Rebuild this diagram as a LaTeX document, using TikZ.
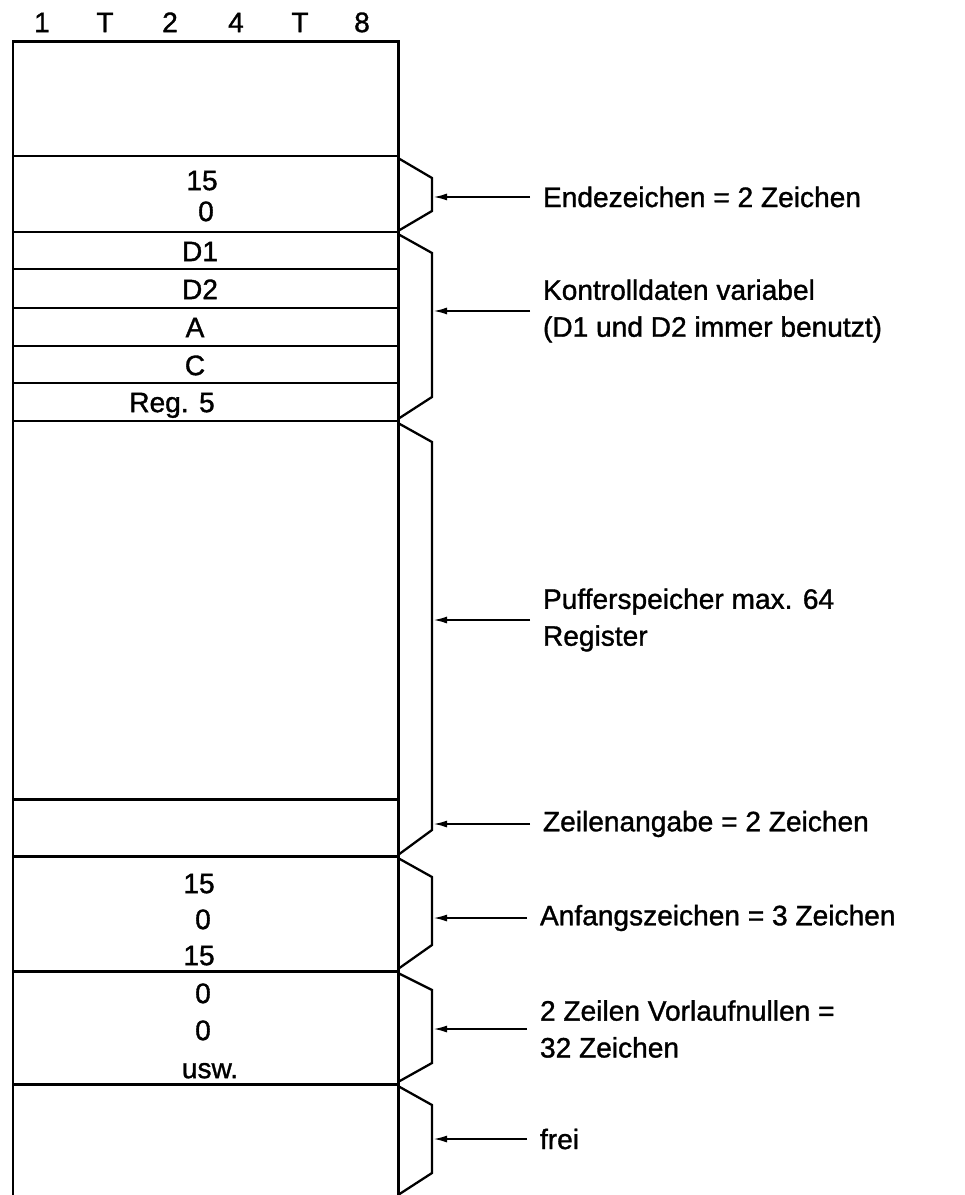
\documentclass[tikz,border=0pt]{standalone}
\usepackage{fontspec}
\setmainfont{Liberation Sans}[RawFeature={embolden=1.2}]
\usetikzlibrary{arrows.meta}

\tikzset{
    feld/.style={line width=1.7pt},
    klammer/.style={line width=1.3pt, line join=miter},
    pfeil/.style={line width=1.2pt, -{Latex[length=0.28cm,width=0.14cm]}},
    zelle/.style={inner sep=0pt, text height=11.5pt, text depth=0pt,
        font=\fontsize{16}{21}\selectfont},
    lbl/.style={anchor=west, inner sep=0pt, outer sep=0.26cm, align=left,
        font=\fontsize{16}{21}\selectfont}
}

\begin{document}
\begin{tikzpicture}[x=0.02cm, y=-0.02cm]
    \useasboundingbox (0,0) rectangle (964,1195);
    %% spuren
    \node[zelle] (s1) at (42,22) {1};
    \node[zelle] (s2) at (105,22) {T};
    \node[zelle] (s3) at (170,22) {2};
    \node[zelle] (s4) at (236,22) {4};
    \node[zelle] (s5) at (300,22) {T};
    \node[zelle] (s6) at (362,22) {8};
    %% speicher
    \draw[feld] (13,1195) -- (13,42) -- (398,42) -- (398,1195);
    \draw[feld] (13,156) -- (398,156);
    \draw[feld] (13,232) -- (398,232);
    \draw[feld] (13,269) -- (398,269);
    \draw[feld] (13,308) -- (398,308);
    \draw[feld] (13,346) -- (398,346);
    \draw[feld] (13,383) -- (398,383);
    \draw[feld] (13,421) -- (398,421);
    \draw[feld] (13,799) -- (398,799);
    \draw[feld] (13,856) -- (398,856);
    \draw[feld] (13,971) -- (398,971);
    \draw[feld] (13,1084) -- (398,1084);
    %% inhalt
    \node[zelle] (e15) at (202,180) {15};
    \node[zelle] (e0) at (206,211) {0};
    \node[zelle] (d1) at (200,251) {D1};
    \node[zelle] (d2) at (200,289) {D2};
    \node[zelle] (ra) at (195,327) {A};
    \node[zelle] (rc) at (195,365) {C};
    \node[zelle] (reg) at (172,402) {Reg. 5};
    \node[zelle] (a15) at (199,883) {15};
    \node[zelle] (a0) at (203,919) {0};
    \node[zelle] (b15) at (199,955) {15};
    \node[zelle] (v0) at (203,993) {0};
    \node[zelle] (w0) at (203,1030) {0};
    \node[zelle] (usw) at (210,1068) {usw.};
    %% klammern
    \draw[klammer] (398,158) -- (432,178) -- (432,211) -- (398,231);
    \draw[klammer] (398,234) -- (432,253) -- (432,397) -- (398,419);
    \draw[klammer] (398,423) -- (432,442) -- (432,830) -- (398,855);
    \draw[klammer] (398,858) -- (432,877) -- (432,945) -- (398,969);
    \draw[klammer] (398,973) -- (432,990) -- (432,1063) -- (398,1082);
    \draw[klammer] (398,1086) -- (432,1105) -- (432,1173) -- (398,1195);
    \coordinate (k1) at (433,197);
    \coordinate (k2) at (433,311);
    \coordinate (k3) at (433,620);
    \coordinate (k4) at (433,824);
    \coordinate (k5) at (433,918);
    \coordinate (k6) at (433,1029);
    \coordinate (k7) at (433,1139);
    %% beschriftung
    \node[lbl] (ende) at (530,197) {Endezeichen = 2 Zeichen};
    \node[lbl] (kontr) at (530,311) {Kontrolldaten variabel\\(D1 und D2 immer benutzt)};
    \node[lbl] (puffer) at (530,620) {Pufferspeicher max. 64\\Register};
    \node[lbl] (zeile) at (530,824) {Zeilenangabe = 2 Zeichen};
    \node[lbl] (anf) at (527,918) {Anfangszeichen = 3 Zeichen};
    \node[lbl] (vorl) at (527,1029) {2 Zeilen Vorlaufnullen =\\32 Zeichen};
    \node[lbl] (frei) at (527,1139) {frei};
    \draw[pfeil] (ende.west) -- (k1);
    \draw[pfeil] (kontr.west) -- (k2);
    \draw[pfeil] (puffer.west) -- (k3);
    \draw[pfeil] (zeile.west) -- (k4);
    \draw[pfeil] (anf.west) -- (k5);
    \draw[pfeil] (vorl.west) -- (k6);
    \draw[pfeil] (frei.west) -- (k7);
\end{tikzpicture}
\end{document}
